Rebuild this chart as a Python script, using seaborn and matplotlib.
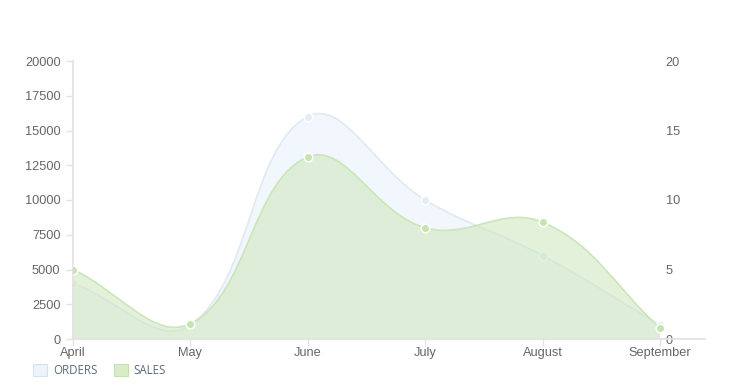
import numpy as np
import pandas as pd
import matplotlib
matplotlib.use("Agg")
import matplotlib.pyplot as plt
from matplotlib.path import Path
from matplotlib.patches import PathPatch, Rectangle
import seaborn as sns

months = ["April", "May", "June", "July", "August", "September"]
orders = [4, 1, 16, 10, 6, 1]
sales = [5000, 1100, 13100, 8000, 8400, 800]
left_ticks = [0, 2500, 5000, 7500, 10000, 12500, 15000, 17500, 20000]
right_ticks = [0, 5, 10, 15, 20]

sns.set_theme(style="white")
plt.rcParams["font.family"] = ["Liberation Sans", "DejaVu Sans"]

W, H = 754, 388
fig = plt.figure(figsize=(W / 100, H / 100), dpi=100)
ax = fig.add_axes([73 / W, (H - 339) / H, (705 - 73) / W, (339 - 61) / H])
ax2 = ax.twinx()

x = np.arange(len(months))
ax.set_xlim(0, (705 - 73) / ((660 - 73) / 5))
ax.set_ylim(0, 20000)
ax2.set_ylim(0, 20)

ORD_LINE = "#dfeaf5"
ORD_FILL = (215 / 255, 232 / 255, 248 / 255, 0.33)
ORD_PT = "#e4edf7"
SAL_LINE = "#cbe6b8"
SAL_FILL = (205 / 255, 230 / 255, 188 / 255, 0.55)
SAL_PT = "#c6e4b0"


def spline_path(axis, xs, ys, tension=0.4):
    pts = axis.transData.transform(np.column_stack([xs, ys]))
    n = len(pts)
    ctrl_prev = [None] * n
    ctrl_next = [None] * n
    for i in range(n):
        p0 = pts[max(i - 1, 0)]
        p1 = pts[i]
        p2 = pts[min(i + 1, n - 1)]
        d01 = np.hypot(*(p1 - p0))
        d12 = np.hypot(*(p2 - p1))
        tot = d01 + d12
        s01 = d01 / tot if tot else 0
        s12 = d12 / tot if tot else 0
        fa = tension * s01
        fb = tension * s12
        ctrl_prev[i] = p1 - fa * (p2 - p0)
        ctrl_next[i] = p1 + fb * (p2 - p0)
    verts = [pts[0]]
    codes = [Path.MOVETO]
    for i in range(n - 1):
        verts += [ctrl_next[i], ctrl_prev[i + 1], pts[i + 1]]
        codes += [Path.CURVE4] * 3
    inv = axis.transData.inverted()
    verts = inv.transform(np.array(verts))
    return verts, codes


def draw_series(axis, xs, ys, line, fill, pt):
    verts, codes = spline_path(axis, xs, ys)
    line_path = Path(verts, codes)
    fv = np.vstack([verts, [[xs[-1], 0], [xs[0], 0], verts[0]]])
    fc = list(codes) + [Path.LINETO, Path.LINETO, Path.CLOSEPOLY]
    axis.add_patch(PathPatch(Path(fv, fc), facecolor=fill, edgecolor="none", zorder=1))
    axis.add_patch(PathPatch(line_path, facecolor="none", edgecolor=line, lw=1.2, zorder=2))
    df = pd.DataFrame({"x": xs, "y": ys})
    sns.scatterplot(data=df, x="x", y="y", ax=axis, color=pt, s=38,
                    edgecolor="white", linewidth=1.1, zorder=3, legend=False)


fig.canvas.draw()
draw_series(ax2, x, orders, ORD_LINE, ORD_FILL, ORD_PT)
draw_series(ax, x, sales, SAL_LINE, SAL_FILL, SAL_PT)

ax.set_zorder(ax2.get_zorder() + 1)
ax.patch.set_visible(False)

ax.set_xlim(0, (705 - 73) / ((660 - 73) / 5))
ax.set_ylim(0, 20000)
ax2.set_ylim(0, 20)

TXT = "#666666"
GRID = "#e2e2e2"
ax.set_xticks(x)
ax.set_xticklabels(months)
ax.set_yticks(left_ticks)
ax.set_yticklabels([str(t) for t in left_ticks])
ax2.set_yticks(right_ticks)
ax2.set_yticklabels([str(t) for t in right_ticks])
ax.set_xlabel("")
ax.set_ylabel("")
ax2.set_ylabel("")

for a in (ax, ax2):
    for s in a.spines.values():
        s.set_visible(False)
ax.spines["left"].set_visible(True)
ax.spines["left"].set_color(GRID)
ax.spines["bottom"].set_visible(True)
ax.spines["bottom"].set_color(GRID)

ax.tick_params(axis="y", left=True, length=5, width=1, color=GRID, labelcolor=TXT,
               labelsize=9.2, pad=4)
ax.tick_params(axis="x", bottom=True, length=5, width=1, color=GRID, labelcolor=TXT,
               labelsize=9.2, pad=1)
ax2.spines["right"].set_position(("axes", (660 - 73) / (705 - 73)))
ax2.tick_params(axis="y", right=True, length=0, labelcolor=TXT, labelsize=9.2, pad=4)

handles = [Rectangle((0, 0), 1, 1, facecolor="#edf4fb", edgecolor="#d6e3ef", lw=0.8),
           Rectangle((0, 0), 1, 1, facecolor="#d9ecc9", edgecolor="#c4e0ae", lw=0.8)]
fig.legend(handles, ["ORDERS", "SALES"], loc="center left",
           bbox_to_anchor=(33 / W, 1 - 370 / H), ncol=2, frameon=False,
           handlelength=1.2, handleheight=1.2, handletextpad=0.55, columnspacing=1.4,
           prop={"family": ["Open Sans", "DejaVu Sans"], "size": 8.3},
           labelcolor="#5d6b7a", borderpad=0, borderaxespad=0)

fig.savefig("out.png", dpi=100)
